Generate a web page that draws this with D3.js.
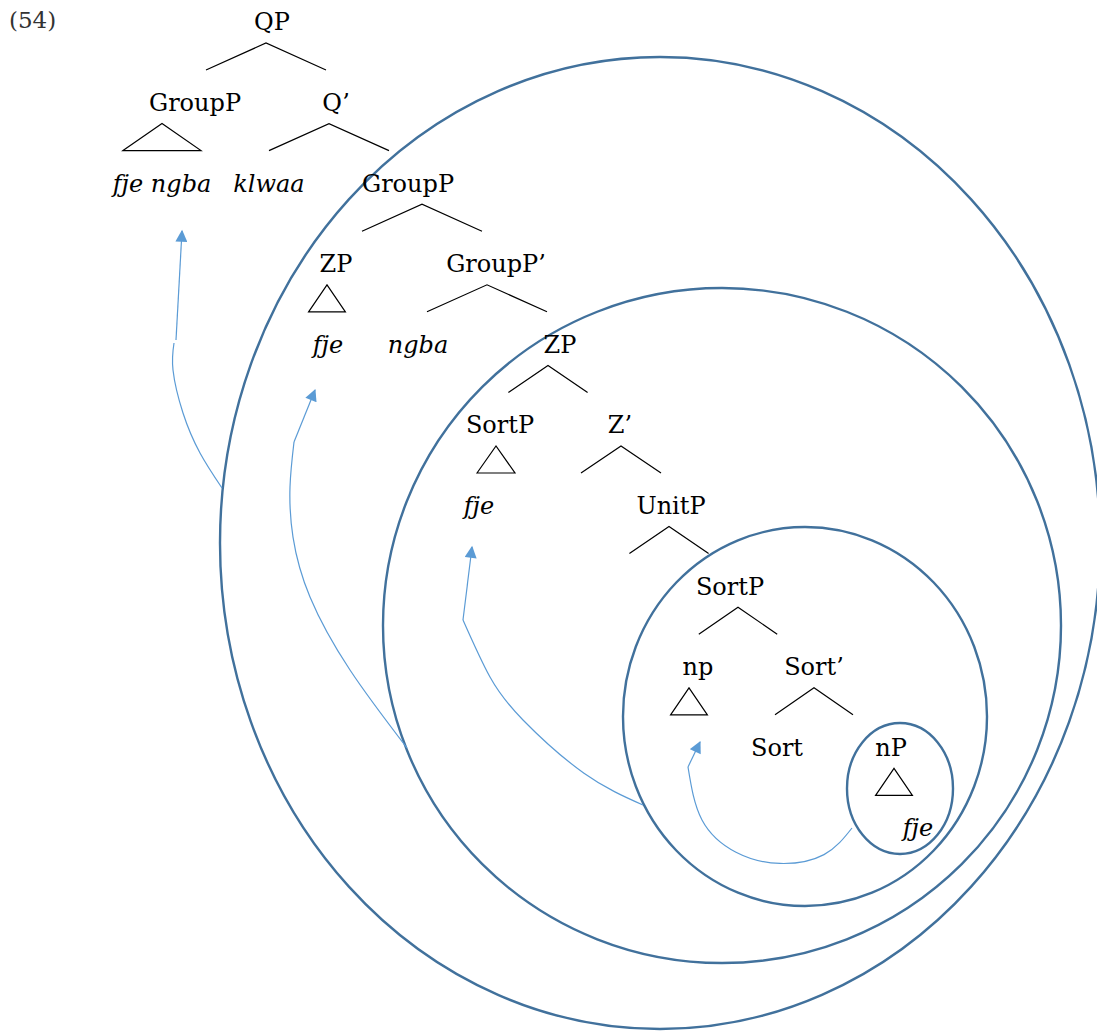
<!DOCTYPE html>
<html>
<head>
<meta charset="utf-8">
<script src="https://cdn.jsdelivr.net/npm/d3@7"></script>
<style>
  body { margin: 0; background: #fff; }
  svg text { font-family: "DejaVu Serif", serif; font-size: 24px; fill: #000; }
</style>
</head>
<body>
<div id="chart"></div>
<script>
let width = 1097, height = 1031;

// node labels: text, column, row, italic
let labels = ["QP", "GroupP", "Q\u2019", "fje ngba", "klwaa", "GroupP", "ZP", "GroupP\u2019", "fje", "ngba",
              "ZP", "SortP", "Z\u2019", "fje", "UnitP", "SortP", "np", "Sort\u2019", "Sort", "nP", "fje"];
let labelCols = [6.8, 4.875, 8.4, 4.05, 6.725, 10.2, 8.4, 12.4, 8.2, 10.45,
                 14, 12.5, 15.5, 11.975, 16.775, 18.25, 17.45, 20.35, 19.425, 22.275, 22.95];
let labelRows = [0, 1, 1, 2, 2, 2, 3, 3, 4, 4, 4, 5, 5, 6, 6, 7, 8, 8, 9, 9, 10];
let labelItalic = [0, 0, 0, 1, 1, 0, 0, 0, 1, 1, 0, 0, 0, 1, 0, 0, 0, 0, 0, 0, 1];

// binary branches: apex column, row, half spread (columns)
let branchCols = [6.65, 8.225, 10.55, 12.175, 13.7, 15.525, 16.725, 18.45, 20.35];
let branchRows = [0, 1, 2, 3, 4, 5, 6, 7, 8];
let branchHalf = [1.5, 1.5, 1.5, 1.5, 0.99, 1.0, 0.99, 0.98, 0.975];

// roof triangles: apex column, row, half base
let triCols = [4.05, 8.175, 12.4, 17.225, 22.35];
let triRows = [1, 3, 5, 8, 9];
let triHalf = [0.975, 0.46, 0.475, 0.46, 0.46];

// domain ellipses: centre col/row, radii in cols/rows
let ellCx = [16.5, 18.05, 20.125, 22.5];
let ellCy = [6.464, 7.488, 8.617, 9.51];
let ellRx = [11.0, 8.475, 4.55, 1.325];
let ellRy = [6.03, 4.187, 2.351, 0.813];

// movement arrows: curved tail points, then straight shaft to the tip
let arrowCurves = [
  [[5.55, 5.782], [5.0, 5.347], [4.575, 4.851], [4.325, 4.318], [4.35, 3.983]],
  [[10.175, 9.007], [8.75, 8.04], [7.75, 7.134], [7.325, 6.39], [7.25, 5.769], [7.35, 5.211]],
  [[16.075, 9.715], [14.6, 9.32], [13.075, 8.66], [12.25, 8.127], [11.575, 7.419]],
  [[21.3, 10.0], [20.6, 10.33], [19.5, 10.44], [18.4, 10.3], [17.55, 9.9], [17.2, 9.243]]
];
let arrowShafts = [
  [[4.4, 3.945], [4.55, 2.593]],
  [[7.35, 5.211], [7.875, 4.566]],
  [[11.575, 7.419], [11.8, 6.514]],
  [[17.2, 9.243], [17.5, 8.933]]
];

let x = d3.scaleLinear().domain([0, 27.425]).range([0, width]);
let y = d3.scaleLinear().domain([0, 10]).range([22, 828]);

let svg = d3.select("#chart")
    .append("svg")
    .attr("width", width)
    .attr("height", height);

svg.append("defs").append("marker")
    .attr("id", "head")
    .attr("viewBox", "0 0 10 10")
    .attr("refX", 9)
    .attr("refY", 5)
    .attr("markerUnits", "userSpaceOnUse")
    .attr("markerWidth", 14)
    .attr("markerHeight", 12)
    .attr("orient", "auto")
    .append("path")
    .attr("d", "M0,0 L10,5 L0,10 z")
    .style("fill", "#5b9bd5");

svg.append("text")
    .attr("x", 9)
    .attr("y", 20)
    .attr("dy", "0.35em")
    .style("font-size", "23px")
    .style("fill", "#333")
    .text("(54)");

// ellipses
svg.append("g").selectAll("ellipse")
    .data(ellCx)
    .enter().append("ellipse")
    .attr("cx", function(d) { return x(d); })
    .attr("cy", function(d, i) { return y(ellCy[i]); })
    .attr("rx", function(d, i) { return x(ellRx[i]) - x(0); })
    .attr("ry", function(d, i) { return y(ellRy[i]) - y(0); })
    .style("fill", "none")
    .style("stroke", "#41719c")
    .style("stroke-width", 2.4);

// arrows
let curve = d3.line()
    .x(function(d) { return x(d[0]); })
    .y(function(d) { return y(d[1]); })
    .curve(d3.curveNatural);

svg.append("g").selectAll("path")
    .data(arrowCurves)
    .enter().append("path")
    .attr("d", curve)
    .style("fill", "none")
    .style("stroke", "#5b9bd5")
    .style("stroke-width", 1.2);

let straight = d3.line()
    .x(function(d) { return x(d[0]); })
    .y(function(d) { return y(d[1]); });

svg.append("g").selectAll("path")
    .data(arrowShafts)
    .enter().append("path")
    .attr("d", straight)
    .attr("marker-end", "url(#head)")
    .style("fill", "none")
    .style("stroke", "#5b9bd5")
    .style("stroke-width", 1.2);

// branches
svg.append("g").selectAll("path")
    .data(branchCols)
    .enter().append("path")
    .attr("d", function(d, i) {
        let ax = x(d), ay = y(branchRows[i]) + 21, h = x(branchHalf[i]) - x(0);
        return "M" + (ax - h) + "," + (ay + 27) + "L" + ax + "," + ay + "L" + (ax + h) + "," + (ay + 27);
    })
    .style("fill", "none")
    .style("stroke", "#000")
    .style("stroke-width", 1.2);

// triangles
svg.append("g").selectAll("path")
    .data(triCols)
    .enter().append("path")
    .attr("d", function(d, i) {
        let ax = x(d), ay = y(triRows[i]) + 21, h = x(triHalf[i]) - x(0);
        return "M" + (ax - h) + "," + (ay + 27) + "L" + ax + "," + ay + "L" + (ax + h) + "," + (ay + 27) + "Z";
    })
    .style("fill", "none")
    .style("stroke", "#000")
    .style("stroke-width", 1.2);

// node labels
svg.append("g").selectAll("text")
    .data(labels)
    .enter().append("text")
    .attr("x", function(d, i) { return x(labelCols[i]); })
    .attr("y", function(d, i) { return y(labelRows[i]); })
    .attr("dy", "0.35em")
    .attr("text-anchor", "middle")
    .style("font-style", function(d, i) { return labelItalic[i] ? "italic" : "normal"; })
    .text(function(d) { return d; });
</script>
</body>
</html>
